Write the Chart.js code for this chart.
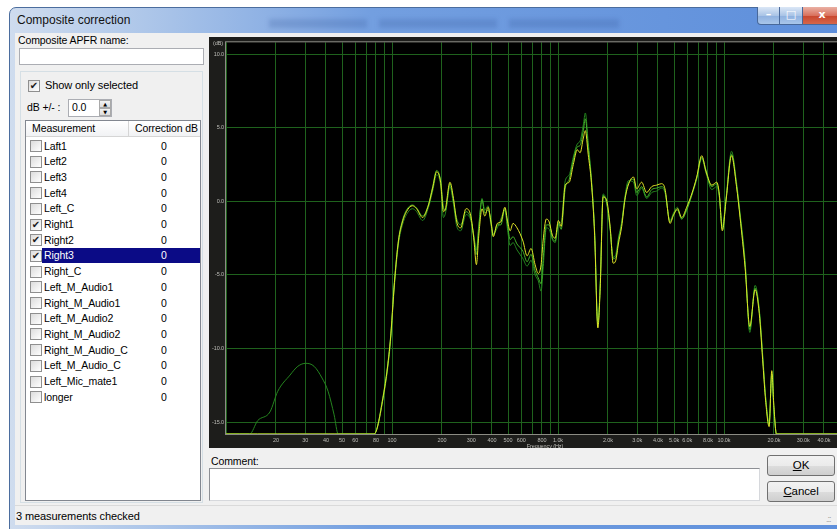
<!DOCTYPE html>
<html lang="en">
<head>
<meta charset="UTF-8">
<title>Composite correction</title>
<script src="https://cdn.jsdelivr.net/npm/chart.js"></script>
<style>
  body {
    margin: 0; width: 837px; height: 529px; overflow: hidden; position: relative;
    background: #fff; font-family: "Liberation Sans", Arial, sans-serif; font-size: 10.5px;
    letter-spacing: -0.1px; color: #000;
  }
  .abs { position: absolute; white-space: nowrap; }
  #frame {
    left: 9px; top: 7px; width: 860px; height: 540px; box-sizing: border-box;
    border: 1px solid #4b6d9e; border-radius: 7px 7px 0 0;
    background: linear-gradient(to right, #cfdcee 0%, #adc6e9 16%, #739fe0 42%, #5d8edb 100%);
  }
  .ghost { top: 19px; height: 9px; background: rgba(50, 80, 150, 0.22); filter: blur(2px); }
  #caption { left: 17px; top: 13px; font-size: 12px; color: #111; letter-spacing: 0; }
  .capbtn {
    top: 7px; height: 18px; box-sizing: border-box; border: 1px solid #48689a; border-top: none;
    background: linear-gradient(#dbe7f6, #aac4e6 50%, #8eb0df 51%, #a9c6ea);
    color: #fff; text-align: center; font: bold 11px "DejaVu Sans", sans-serif; line-height: 16px;
  }
  #client { left: 15px; top: 33px; width: 840px; height: 492px; background: #f0f0f0; }
  .field { background: #fff; border: 1px solid #abadb3; box-sizing: border-box; }
  .cb {
    width: 12px; height: 12px; box-sizing: border-box; border: 1px solid #8f8f8f;
    background: linear-gradient(135deg, #dcdcdc, #fff); font: 10px "DejaVu Sans", sans-serif;
    line-height: 10px; text-align: center; color: #1a1a1a; letter-spacing: 0;
  }
  #list { left: 25px; top: 120px; width: 176px; height: 381px; background: #fff; border: 1px solid #828790; box-sizing: border-box; }
  #listHead { left: 0; top: 0; width: 174px; height: 15px; background: linear-gradient(#fff, #f1f2f4); border-bottom: 1px solid #d5d5d5; }
  .row { height: 15px; line-height: 15px; }
  .btn {
    left: 767px; width: 68px; height: 21px; box-sizing: border-box; border: 1px solid #707070; border-radius: 3px;
    background: linear-gradient(#f2f2f2, #ebebeb 50%, #dddddd 51%, #cfcfcf);
    text-align: center; line-height: 19px; font-size: 11.5px;
  }
  #chartBox { left: 209px; top: 37px; width: 628px; height: 411px; overflow: hidden; background: #1d1d1b; }
</style>
</head>
<body>

<div id="frame" class="abs"></div>
<div class="abs ghost" style="left:269px;width:98px"></div>
<div class="abs ghost" style="left:379px;width:118px"></div>
<div class="abs ghost" style="left:509px;width:110px"></div>
<div id="caption" class="abs">Composite correction</div>
<div class="abs capbtn" style="left:757px;width:23px;border-radius:0 0 0 4px">&#8211;</div>
<div class="abs capbtn" style="left:779px;width:24px">&#9633;</div>
<div class="abs capbtn" style="left:802px;width:40px;background:linear-gradient(#eab1a4,#d9715d 50%,#c8452c 51%,#d6664a)">x</div>

<div id="client" class="abs"></div>

<div class="abs" style="left:18px;top:34px">Composite APFR name:</div>
<div class="abs field" style="left:19px;top:48px;width:185px;height:17px"></div>

<div class="abs" style="left:20px;top:71px;width:183px;height:432px;border:1px solid #d5dfe5;box-sizing:border-box"></div>
<div class="abs cb" style="left:28px;top:80px">&#10004;</div>
<div class="abs" style="left:45px;top:79px;font-size:11px">Show only selected</div>
<div class="abs" style="left:27px;top:101px">dB +/- :</div>
<div class="abs field" style="left:68px;top:99px;width:44px;height:18px"></div>
<div class="abs" style="left:72px;top:101px">0.0</div>
<div class="abs" style="left:99px;top:100px;width:12px;height:8px;background:linear-gradient(#f4f4f4,#dcdcdc);border:1px solid #a9a9a9;box-sizing:border-box;font:5px 'DejaVu Sans';text-align:center;line-height:6px">&#9650;</div>
<div class="abs" style="left:99px;top:108px;width:12px;height:8px;background:linear-gradient(#f4f4f4,#dcdcdc);border:1px solid #a9a9a9;box-sizing:border-box;font:5px 'DejaVu Sans';text-align:center;line-height:6px">&#9660;</div>

<div id="list" class="abs">
  <div id="listHead" class="abs">
    <div class="abs" style="left:6px;top:1px">Measurement</div>
    <div class="abs" style="left:102px;top:0;width:1px;height:15px;background:#d5d5d5"></div>
    <div class="abs" style="left:109px;top:1px">Correction dB</div>
  </div>
</div>
<div id="rows"></div>

<div class="abs" style="left:15px;top:505px;width:830px;height:1px;background:#dadada"></div>
<div class="abs" style="left:16px;top:510px;font-size:11px">3 measurements checked</div>
<div class="abs" style="left:826px;top:514px;color:#a0a0a0;font-size:9px;letter-spacing:-1px">.::</div>

<div id="chartBox" class="abs">
  <canvas id="fr" width="690" height="411"></canvas>
</div>

<div class="abs" style="left:211px;top:455px">Comment:</div>
<div class="abs field" style="left:209px;top:468px;width:551px;height:33px;border-color:#8d8f94 #d6d8dc #d6d8dc #8d8f94"></div>
<div class="abs btn" style="top:455px"><u>O</u>K</div>
<div class="abs btn" style="top:481px"><u>C</u>ancel</div>

<script>
// measurement list on the left
const measurementNames = ['Laft1', 'Left2', 'Left3', 'Left4', 'Left_C', 'Right1', 'Right2', 'Right3', 'Right_C',
  'Left_M_Audio1', 'Right_M_Audio1', 'Left_M_Audio2', 'Right_M_Audio2', 'Right_M_Audio_C', 'Left_M_Audio_C',
  'Left_Mic_mate1', 'longer'];
const checkedNames = ['Right1', 'Right2', 'Right3'];
const selectedName = 'Right3';

// frequency response, x in Hz, y in dB
const freqHz = [
  10, 12, 13.9, 15.5, 18.4, 20.5, 24.3, 27.1, 30.3, 33.9,
  37.9, 41.2, 44.8, 47.4, 60, 78, 87.5, 97.7, 103.5, 109.4,
  115.6, 122.2, 132.7, 140.6, 152.8, 166, 175.8, 185.8, 196.3, 204.2,
  209.9, 223.4, 234.6, 245.5, 259.4, 279.1, 298.6, 312, 322.4, 333.3,
  348.6, 362.2, 379.3, 394.5, 407.7, 430.7, 452.6, 478.6, 497.7, 514.8,
  535.8, 566.3, 615.2, 651.4, 688.3, 727.8, 760.8, 791.2, 813, 851,
  885, 925, 962, 1005, 1045, 1106, 1169, 1236, 1307, 1359,
  1421, 1461, 1520, 1589, 1662, 1738, 1796, 1870, 1960, 2060,
  2150, 2230, 2310, 2420, 2530, 2650, 2850, 2980, 3190, 3420,
  3670, 3930, 4210, 4410, 4730, 4960, 5240, 5560, 5960, 6390,
  6850, 7340, 7800, 8440, 9040, 9370, 9770, 10300, 11100, 11900,
  12500, 13400, 14300, 15400, 16300, 17200, 17800, 18700, 19400, 20000,
  20700, 40000, 100000
];
const right1Db = [
  -15.8, -15.8, -15.8, -14.9, -14.3, -12.9, -11.8, -11.2, -11.0, -11.2,
  -12.0, -12.9, -14.5, -15.8, -15.8, -15.8, -13.7, -9.7, -5.7, -2.9,
  -1.6, -0.9, -0.5, -0.7, -1.3, -0.4, 0.7, 1.8, 1.1, -1.1,
  -0.8, 1.0, -0.2, -1.7, -2.0, -0.9, -1.3, -2.4, -3.3, -1.6,
  0.2, -0.6, -0.3, -1.6, -2.2, -1.8, -1.2, -0.6, -2.0, -3.0,
  -2.8, -3.3, -3.9, -4.4, -4.0, -5.0, -5.4, -6.1, -4.6, -1.8,
  -1.9, -2.6, -2.8, -1.5, -1.4, 1.4, 1.8, 3.0, 3.9, 4.1,
  5.2, 6.0, 4.0, 1.6, -2.0, -8.3, -5.6, 0.5, 0.0, -1.9,
  -3.8, -3.6, -2.5, -1.4, 0.3, 1.4, 1.3, 0.4, 0.9, 0.2,
  0.6, 0.7, 0.9, 0.6, -1.3, -0.8, -0.4, -1.2, -0.5, 0.4,
  1.5, 2.9, 1.9, 0.8, 1.0, 0.3, -1.7, 0.3, 3.4, 1.3,
  -0.8, -4.0, -8.9, -5.7, -7.3, -10.8, -13.2, -15.0, -11.9, -14.3,
  -15.8, -15.8, -15.8
];
const right2Db = [
  -15.8, -15.8, -15.8, -15.8, -15.8, -15.8, -15.8, -15.8, -15.8, -15.8,
  -15.8, -15.8, -15.8, -15.8, -15.8, -15.8, -13.5, -9.4, -5.4, -2.6,
  -1.3, -0.6, -0.25, -0.45, -1.0, -0.2, 1.0, 2.1, 1.4, -0.4,
  -0.6, 1.2, 0.0, -1.2, -1.6, -0.7, -1.2, -2.5, -3.6, -1.8,
  0.1, -0.8, -0.6, -1.3, -2.3, -1.6, -1.6, -0.5, -1.7, -2.6,
  -2.4, -2.9, -3.4, -4.1, -3.6, -4.7, -5.2, -5.6, -4.0, -1.6,
  -1.6, -2.5, -2.7, -1.5, -1.9, 0.9, 1.5, 2.8, 3.7, 3.8,
  4.8, 5.6, 3.7, 1.4, -2.1, -8.4, -5.7, 0.4, -0.1, -1.8,
  -3.9, -3.8, -2.7, -1.5, 0.2, 1.2, 1.5, 0.6, 1.0, 0.3,
  0.8, 0.9, 1.0, 0.7, -1.4, -0.9, -0.6, -1.2, -0.6, 0.4,
  1.6, 3.0, 2.1, 1.0, 1.2, 0.4, -1.9, 0.2, 3.2, 1.1,
  -1.0, -4.3, -8.7, -5.9, -7.4, -11.0, -13.3, -15.2, -11.7, -14.1,
  -15.8, -15.8, -15.8
];
const right3Db = [
  -15.8, -15.8, -15.8, -15.8, -15.8, -15.8, -15.8, -15.8, -15.8, -15.8,
  -15.8, -15.8, -15.8, -15.8, -15.8, -15.8, -13.6, -9.5, -5.5, -2.7,
  -1.4, -0.7, -0.3, -0.5, -1.1, -0.25, 0.9, 2.0, 1.3, -0.7,
  -0.5, 1.3, 0.2, -1.4, -1.8, -0.5, -1.0, -2.7, -4.3, -2.3,
  -0.5, -1.0, -0.4, -1.4, -2.4, -1.5, -1.4, -0.4, -1.4, -2.0,
  -1.5, -1.8, -2.7, -3.7, -3.2, -4.3, -4.9, -4.3, -2.7, -1.2,
  -1.4, -2.3, -2.5, -1.3, -1.7, 1.1, 1.3, 2.5, 3.5, 3.3,
  4.3, 4.8, 3.2, 1.3, -2.3, -8.6, -5.9, 0.3, 0.1, -1.7,
  -4.2, -4.0, -2.9, -1.7, 0.1, 1.1, 1.65, 0.85, 1.3, 0.6,
  1.0, 1.1, 1.2, 0.85, -1.5, -0.95, -0.5, -1.1, -0.4, 0.5,
  1.65, 3.1, 2.0, 1.1, 1.3, 0.5, -2.0, 0.1, 3.1, 1.0,
  -1.1, -4.5, -8.5, -6.0, -7.6, -11.2, -13.5, -15.3, -11.5, -14.0,
  -15.8, -15.8, -15.8
];

// grid lines and their labels
const freqGridHz = [
  10, 20, 30, 40, 50, 60, 70, 80, 90,
  100, 200, 300, 400, 500, 600, 700, 800, 900,
  1000, 2000, 3000, 4000, 5000, 6000, 7000, 8000, 9000,
  10000, 20000, 30000, 40000, 50000, 60000, 70000, 80000, 90000,
  100000
];
const freqTickLabels = [
  '', '20', '30', '40', '50', '60', '', '80', '',
  '100', '200', '300', '400', '500', '600', '', '800', '',
  '1.0k', '2.0k', '3.0k', '4.0k', '5.0k', '6.0k', '', '8.0k', '',
  '10.0k', '20.0k', '30.0k', '40.0k', '', '', '', '', '',
  ''
];
const dbTicks = [-15, -10, -5, 0, 5, 10];
const dbTickLabels = ['-15.0', '-10.0', '-5.0', '0.0', '5.0', '10.0'];

// list rows
const rowsEl = document.getElementById('rows');
measurementNames.forEach((name, i) => {
  const top = 138.5 + i * 15.7;
  const checked = checkedNames.includes(name);
  const sel = name === selectedName;
  let html = '<div class="abs cb" style="left:30px;top:' + (top + 1.5) + 'px">' + (checked ? '&#10004;' : '') + '</div>';
  if (sel) html += '<div class="abs" style="left:42px;top:' + top + 'px;width:158px;height:15px;background:#0b0b86"></div>';
  html += '<div class="abs row" style="left:44px;top:' + top + 'px;color:' + (sel ? '#fff' : '#000') + '">' + name + '</div>';
  html += '<div class="abs row" style="left:161px;top:' + top + 'px;color:' + (sel ? '#fff' : '#000') + '">0</div>';
  rowsEl.insertAdjacentHTML('beforeend', html);
});

const plotFrame = {
  id: 'plotFrame',
  beforeDraw(chart) {
    const { ctx, chartArea: a } = chart;
    ctx.save();
    ctx.fillStyle = '#1d1d1b';
    ctx.fillRect(0, 0, chart.width, chart.height);
    ctx.fillStyle = '#000';
    ctx.fillRect(a.left, a.top, a.right - a.left, a.bottom - a.top);
    ctx.restore();
  },
  beforeDatasetsDraw(chart) {
    const { ctx, chartArea: a } = chart;
    ctx.save();
    ctx.strokeStyle = '#8c8c84';
    ctx.lineWidth = 1;
    ctx.strokeRect(a.left - 0.5, a.top - 0.5, a.right - a.left + 1, a.bottom - a.top + 1);
    ctx.restore();
  },
  afterDraw(chart) {
    const { ctx, chartArea: a } = chart;
    ctx.save();
    ctx.fillStyle = '#bdbdb8';
    ctx.font = '5.5px "Liberation Sans"';
    ctx.textBaseline = 'middle';
    ctx.textAlign = 'right';
    ctx.fillText('(dB)', a.left - 3, 6);
    ctx.textAlign = 'center';
    ctx.fillText('Frequency (Hz)', chart.width / 2 - 9, a.bottom + 12);
    ctx.restore();
  }
};

const toPoints = db => freqHz.map((f, i) => ({ x: f, y: db[i] }));
const tickFont = { size: 5.5, family: 'Liberation Sans' };

new Chart(document.getElementById('fr'), {
  type: 'line',
  data: {
    datasets: [
      { label: 'Right3', data: toPoints(right3Db), borderColor: '#dfe327', order: 0 },
      { label: 'Right2', data: toPoints(right2Db), borderColor: '#44b32a', order: 1 },
      { label: 'Right1', data: toPoints(right1Db), borderColor: '#25841f', order: 2 }
    ]
  },
  options: {
    responsive: false,
    animation: false,
    devicePixelRatio: 1,
    datasets: { line: { borderWidth: 1, pointRadius: 0, cubicInterpolationMode: 'monotone' } },
    layout: { padding: { top: 5, right: 9, left: 0, bottom: 0 } },
    plugins: { legend: { display: false }, tooltip: { enabled: false } },
    scales: {
      x: {
        type: 'logarithmic', min: 10, max: 100000,
        afterBuildTicks: s => { s.ticks = freqGridHz.map(v => ({ value: v })); },
        afterFit: s => { s.height = 14; },
        ticks: { autoSkip: false, maxRotation: 0, padding: 3, color: '#bdbdb8', font: tickFont,
                 callback: (v, i) => freqTickLabels[i] },
        grid: { color: '#1f621d', lineWidth: 1, drawTicks: false },
        border: { display: false }
      },
      y: {
        min: -15.8, max: 10.8,
        afterBuildTicks: s => { s.ticks = dbTicks.map(v => ({ value: v })); },
        afterFit: s => { s.width = 17; },
        ticks: { padding: 2, color: '#bdbdb8', font: tickFont, callback: (v, i) => dbTickLabels[i] },
        grid: { color: '#1f621d', lineWidth: 1, drawTicks: false },
        border: { display: false }
      }
    }
  },
  plugins: [plotFrame]
});
</script>
</body>
</html>
